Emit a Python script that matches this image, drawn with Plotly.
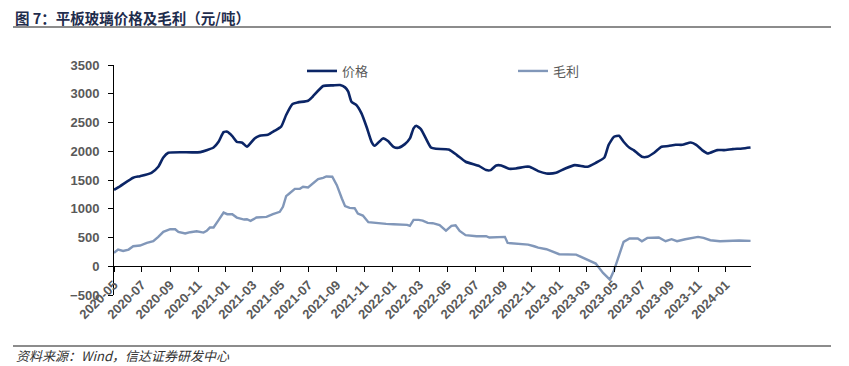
import plotly.graph_objects as go

price_dates = [
    "2020-05-01", "2020-05-14", "2020-06-12", "2020-06-27", "2020-07-22", "2020-08-06",
    "2020-08-17", "2020-08-28", "2020-11-06", "2020-12-05", "2020-12-16", "2020-12-27",
    "2021-01-04", "2021-01-15", "2021-01-25", "2021-02-06", "2021-02-16", "2021-03-05",
    "2021-03-16", "2021-04-03", "2021-04-18", "2021-05-02", "2021-05-13", "2021-05-27",
    "2021-06-08", "2021-06-30", "2021-07-10", "2021-08-02", "2021-08-24", "2021-09-08",
    "2021-09-19", "2021-09-26", "2021-10-03", "2021-10-14", "2021-10-25", "2021-11-05",
    "2021-11-16", "2021-11-23", "2021-12-11", "2021-12-22", "2022-01-03", "2022-01-14",
    "2022-01-28", "2022-02-08", "2022-02-16", "2022-02-22", "2022-03-04", "2022-03-15",
    "2022-03-26", "2022-04-06", "2022-05-04", "2022-05-22", "2022-06-10", "2022-07-10",
    "2022-07-25", "2022-08-04", "2022-08-16", "2022-08-27", "2022-09-13", "2022-09-28",
    "2022-10-19", "2022-10-28", "2022-11-16", "2022-12-04", "2022-12-25", "2023-01-13",
    "2023-02-04", "2023-03-04", "2023-03-22", "2023-04-10", "2023-04-19", "2023-05-01",
    "2023-05-12", "2023-05-22", "2023-06-04", "2023-06-13", "2023-07-01", "2023-07-13",
    "2023-07-28", "2023-08-13", "2023-08-28", "2023-09-13", "2023-09-28", "2023-10-16",
    "2023-10-28", "2023-11-10", "2023-11-22", "2023-12-13", "2023-12-28", "2024-01-16",
    "2024-02-06", "2024-02-24",
]
price_values = [
    1330, 1390, 1540, 1567, 1625, 1730,
    1892, 1973, 1985, 2066, 2165, 2333,
    2339, 2264, 2165, 2148, 2078, 2223,
    2269, 2287, 2357, 2427, 2630, 2821,
    2850, 2879, 2949, 3134, 3146, 3152,
    3111, 3036, 2862, 2803, 2658, 2427,
    2165, 2095, 2223, 2177, 2078, 2060,
    2124, 2223, 2398, 2443, 2385, 2223,
    2066, 2043, 2031, 1933, 1817, 1741,
    1672, 1672, 1753, 1753, 1695, 1700,
    1730, 1730, 1654, 1614, 1625, 1695,
    1759, 1730, 1799, 1892, 2107, 2252,
    2269, 2165, 2060, 2020, 1904, 1904,
    1973, 2078, 2090, 2112, 2112, 2153,
    2112, 2020, 1962, 2020, 2020, 2037,
    2049, 2066,
]

margin_dates = [
    "2020-05-01", "2020-05-10", "2020-05-21", "2020-06-02", "2020-06-12", "2020-06-27",
    "2020-07-12", "2020-07-26", "2020-08-06", "2020-08-17", "2020-09-01", "2020-09-12",
    "2020-09-19", "2020-10-04", "2020-10-15", "2020-10-29", "2020-11-13", "2020-11-20",
    "2020-11-27", "2020-12-05", "2020-12-16", "2020-12-27", "2021-01-04", "2021-01-15",
    "2021-01-25", "2021-02-10", "2021-02-16", "2021-02-24", "2021-03-09", "2021-03-31",
    "2021-04-14", "2021-04-29", "2021-05-06", "2021-05-13", "2021-05-20", "2021-06-01",
    "2021-06-12", "2021-06-19", "2021-06-30", "2021-07-10", "2021-07-22", "2021-08-02",
    "2021-08-09", "2021-08-22", "2021-09-01", "2021-09-12", "2021-09-19", "2021-09-29",
    "2021-10-10", "2021-10-17", "2021-10-28", "2021-11-09", "2021-11-27", "2021-12-18",
    "2022-01-03", "2022-01-18", "2022-02-02", "2022-02-08", "2022-02-16", "2022-02-27",
    "2022-03-08", "2022-03-19", "2022-03-30", "2022-04-14", "2022-04-28", "2022-05-10",
    "2022-05-19", "2022-05-28", "2022-06-10", "2022-07-04", "2022-07-25", "2022-08-01",
    "2022-09-04", "2022-09-10", "2022-09-28", "2022-10-25", "2022-11-07", "2022-11-16",
    "2022-12-04", "2022-12-19", "2023-01-01", "2023-02-07", "2023-03-01", "2023-03-22",
    "2023-04-07", "2023-04-22", "2023-05-01", "2023-05-12", "2023-05-22", "2023-06-04",
    "2023-06-22", "2023-07-01", "2023-07-13", "2023-08-07", "2023-08-22", "2023-09-04",
    "2023-09-16", "2023-10-04", "2023-10-16", "2023-11-01", "2023-11-13", "2023-11-28",
    "2023-12-19", "2024-01-10", "2024-01-30", "2024-02-24",
]
margin_values = [
    232, 290, 267, 290, 348, 360,
    406, 435, 511, 598, 644, 644,
    598, 569, 592, 609, 586, 615,
    673, 673, 801, 934, 905, 905,
    847, 812, 818, 789, 847, 858,
    905, 946, 1033, 1219, 1265, 1346,
    1346, 1381, 1370, 1440, 1515, 1538,
    1562, 1556, 1410, 1179, 1045, 1016,
    1010, 917, 882, 766, 749, 737,
    731, 725, 720, 702, 806, 806,
    795, 754, 749, 715, 620, 702,
    714, 615, 540, 522, 522, 499,
    511, 406, 395, 377, 348, 325,
    296, 250, 209, 203, 128, 47,
    -116, -232, -70, 192, 423, 482,
    482, 435, 493, 499, 435, 470,
    435, 470, 482, 511, 493, 453,
    435, 447, 447, 441,
]

series_names = ["价格", "毛利"]
title_text = "图 7：平板玻璃价格及毛利（元/吨）"
source_text = "资料来源：Wind，信达证券研发中心"
y_range = [-500, 3500]
x_range = ["2020-05-01", "2024-02-25"]

fig = go.Figure()
fig.add_trace(go.Scatter(x=price_dates, y=price_values, mode="lines", name=series_names[0],
                         line=dict(color="#0b2566", width=2.6, shape="spline", smoothing=0.5)))
fig.add_trace(go.Scatter(x=margin_dates, y=margin_values, mode="lines", name=series_names[1],
                         line=dict(color="#8197b9", width=2.4)))

# page has an 8px body margin; figure placed at (8, 8)
OFF = 8
W, H = 849 - OFF, 366 - OFF
PL, PR, PT, PB = 114, 751, 65, 295  # plot area in screen pixels
L = PL - OFF
T = PT - OFF
R = W - (PR - OFF)
B = H - (PB - OFF)
pw, ph = PR - PL, PB - PT


def px_x(px):
    return (px - PL) / pw


def px_y(py):
    return (PB - py) / ph


zero_frac = (0 - y_range[0]) / (y_range[1] - y_range[0])

fig.update_layout(
    width=W, height=H,
    margin=dict(l=L, r=R, t=T, b=B, pad=0),
    paper_bgcolor="white", plot_bgcolor="white",
    font=dict(family="Liberation Sans, Arial, Noto Sans CJK SC", color="#595959"),
    showlegend=True,
    legend=dict(orientation="h", x=px_x(302), xanchor="left", y=px_y(71), yanchor="middle",
                entrywidth=166, entrywidthmode="pixels", bgcolor="rgba(0,0,0,0)",
                font=dict(size=13, color="#595959", family="Noto Sans CJK SC"),
                itemwidth=30, tracegroupgap=0),
    xaxis=dict(type="date", range=x_range, tickmode="linear", tick0="2020-05-01", dtick="M2",
               tickformat="%Y-%m", tickangle=-45, ticks="outside", ticklen=5, tickcolor="#000",
               showline=True, linecolor="#000", linewidth=1, showgrid=False, zeroline=False,
               anchor="free", position=zero_frac, automargin=False,
               tickfont=dict(size=13, color="#595959", family="Liberation Sans, Arial", weight="bold")),
    yaxis=dict(range=y_range, dtick=500, tick0=0, ticks="outside", ticklen=5, tickcolor="#000",
               showline=True, linecolor="#000", linewidth=1, showgrid=False, zeroline=False,
               automargin=False, ticklabelstandoff=6,
               tickfont=dict(size=13, color="#595959", family="Liberation Sans, Arial", weight="bold")),
)

line_color = "#8c8c8c"
fig.add_shape(type="line", xref="paper", yref="paper", x0=px_x(13), x1=px_x(831),
              y0=px_y(27), y1=px_y(27), line=dict(color=line_color, width=2))
fig.add_shape(type="line", xref="paper", yref="paper", x0=px_x(13), x1=px_x(831),
              y0=px_y(346), y1=px_y(346), line=dict(color=line_color, width=2))

fig.add_annotation(xref="paper", yref="paper", x=px_x(13), y=px_y(17), xanchor="left", yanchor="middle",
                   text="<b>" + title_text + "</b>", showarrow=False,
                   font=dict(size=14.5, color="#1f2d4d", family="Noto Sans CJK SC"))
fig.add_annotation(xref="paper", yref="paper", x=px_x(14), y=px_y(355), xanchor="left", yanchor="middle",
                   text="<i>" + source_text + "</i>", showarrow=False,
                   font=dict(size=13, color="#333333", family="Noto Sans CJK SC"))

fig.write_html("out.html")
